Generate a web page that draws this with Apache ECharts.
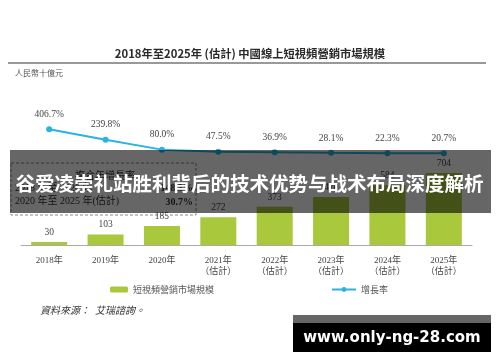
<!DOCTYPE html>
<html><head><meta charset="utf-8">
<script src="https://cdn.jsdelivr.net/npm/echarts@6/dist/echarts.min.js"></script>
<style>html,body{margin:0;padding:0;background:#fff}#c{width:500px;height:362px}</style>
</head><body><div id="c"></div>
<script>
const categories = ['2018年','2019年','2020年','2021年\n（估計）','2022年\n（估計）','2023年\n（估計）','2024年\n（估計）','2025年\n（估計）'];
const marketSize = [30, 103, 185, 272, 373, 470, 584, 704];
const growthRate = [406.7, 239.8, 80.0, 47.5, 36.9, 28.1, 22.3, 20.7];
const titleText = '2018年至2025年 (估計) 中國線上短視頻營銷市場規模';
const unitText = '人民幣十億元';
const barName = '短視頻營銷市場規模';
const lineName = '增長率';
const cagrTitle = '複合年增長率';
const cagrRows = [['2018 年至 2020 年', '148.3%'], ['2020 年至 2025 年(估計)', '30.7%']];
const sourceText = '資料來源：  艾瑞諮詢。';
const bannerText = '谷爱凌崇礼站胜利背后的技术优势与战术布局深度解析';
const watermarkText = 'www.only-ng-28.com';

const serif = '"Liberation Serif", "Noto Sans CJK TC", serif';
const cjk = '"Noto Sans CJK TC", "Noto Sans CJK SC", sans-serif';

const chart = echarts.init(document.getElementById('c'));
chart.setOption({
  animation: false,
  title: {
    text: titleText, left: 'center', top: 43,
    textStyle: {fontSize: 11.3, fontWeight: 'bold', color: '#2a2a2a', fontFamily: cjk}
  },
  legend: [
    {data: [barName], left: 105, top: 280, itemWidth: 18, itemHeight: 6, itemGap: 4,
     textStyle: {fontSize: 9, color: '#555', fontFamily: cjk}},
    {data: [lineName], left: 326, top: 280, itemWidth: 24, itemHeight: 6,
     textStyle: {fontSize: 9, color: '#555', fontFamily: cjk}}
  ],
  grid: {left: 21, right: 28, top: 75, bottom: 117},
  xAxis: {
    type: 'category', data: categories,
    axisLine: {lineStyle: {color: '#aaa', width: 1}},
    axisTick: {show: false},
    axisLabel: {fontSize: 9, color: '#444', fontFamily: serif, margin: 10, lineHeight: 11}
  },
  yAxis: [
    {type: 'value', min: 0, max: 1662, show: false, splitLine: {show: false}},
    {type: 'value', min: -1453, max: 1279.5, show: false, splitLine: {show: false}}
  ],
  series: [
    {name: barName, type: 'bar', data: marketSize, barWidth: 36, yAxisIndex: 0,
     itemStyle: {color: '#a9c83b'},
     label: {show: true, position: 'top', distance: 5, fontSize: 9.5, color: '#444', fontFamily: serif}},
    {name: lineName, type: 'line', data: growthRate, yAxisIndex: 1,
     symbol: 'circle', symbolSize: 6,
     lineStyle: {color: '#2ab3df', width: 2}, itemStyle: {color: '#2ab3df'},
     label: {show: true, position: 'top', distance: 7, fontSize: 9.5, color: '#444', fontFamily: serif,
             formatter: p => p.value.toFixed(1) + '%'}}
  ],
  graphic: [
    {type: 'line', shape: {x1: 8, y1: 63, x2: 486, y2: 63}, style: {stroke: '#999', lineWidth: 2}},
    {type: 'text', left: 15, top: 69, style: {text: unitText, fontSize: 8, fill: '#555', fontFamily: cjk}},
    {type: 'rect', shape: {x: 11, y: 163, width: 185, height: 52},
     style: {fill: 'none', stroke: '#888', lineWidth: 1, lineDash: [3, 2]}},
    {type: 'text', x: 105, y: 175, style: {text: cagrTitle, fontSize: 10, fill: '#333', fontFamily: cjk, align: 'center', verticalAlign: 'middle'}},
    {type: 'text', x: 15, y: 188, style: {text: cagrRows[0][0], fontSize: 10, fill: '#333', fontFamily: serif, verticalAlign: 'middle'}},
    {type: 'text', x: 193, y: 188, style: {text: cagrRows[0][1], fontSize: 10, fontWeight: 'bold', fill: '#333', fontFamily: serif, align: 'right', verticalAlign: 'middle'}},
    {type: 'text', x: 15, y: 201, style: {text: cagrRows[1][0], fontSize: 10, fill: '#333', fontFamily: serif, verticalAlign: 'middle'}},
    {type: 'text', x: 193, y: 202, style: {text: cagrRows[1][1], fontSize: 10, fontWeight: 'bold', fill: '#333', fontFamily: serif, align: 'right', verticalAlign: 'middle'}},
    {type: 'text', x: 40, y: 311, style: {text: sourceText, fontSize: 10, fontStyle: 'italic', fill: '#333', fontFamily: serif, verticalAlign: 'middle'}},
    {type: 'rect', z: 100, shape: {x: 10, y: 150, width: 481, height: 63}, style: {fill: 'rgba(0,0,0,0.6)'}},
    {type: 'text', z: 101, x: 249.5, y: 184, style: {text: bannerText, fontSize: 19.5, fontWeight: 'bold', fill: '#fff', fontFamily: '"Noto Sans CJK SC", sans-serif', align: 'center', verticalAlign: 'middle'}},
    {type: 'rect', z: 100, shape: {x: 293, y: 315, width: 198, height: 8}, style: {fill: '#666'}},
    {type: 'rect', z: 100, shape: {x: 293, y: 323, width: 198, height: 29}, style: {fill: '#000'}},
    {type: 'text', z: 101, x: 392, y: 338, style: {text: watermarkText, fontSize: 15, fontWeight: 'bold', fill: '#fff', fontFamily: '"DejaVu Sans", sans-serif', align: 'center', verticalAlign: 'middle'}}
  ]
});
</script></body></html>
